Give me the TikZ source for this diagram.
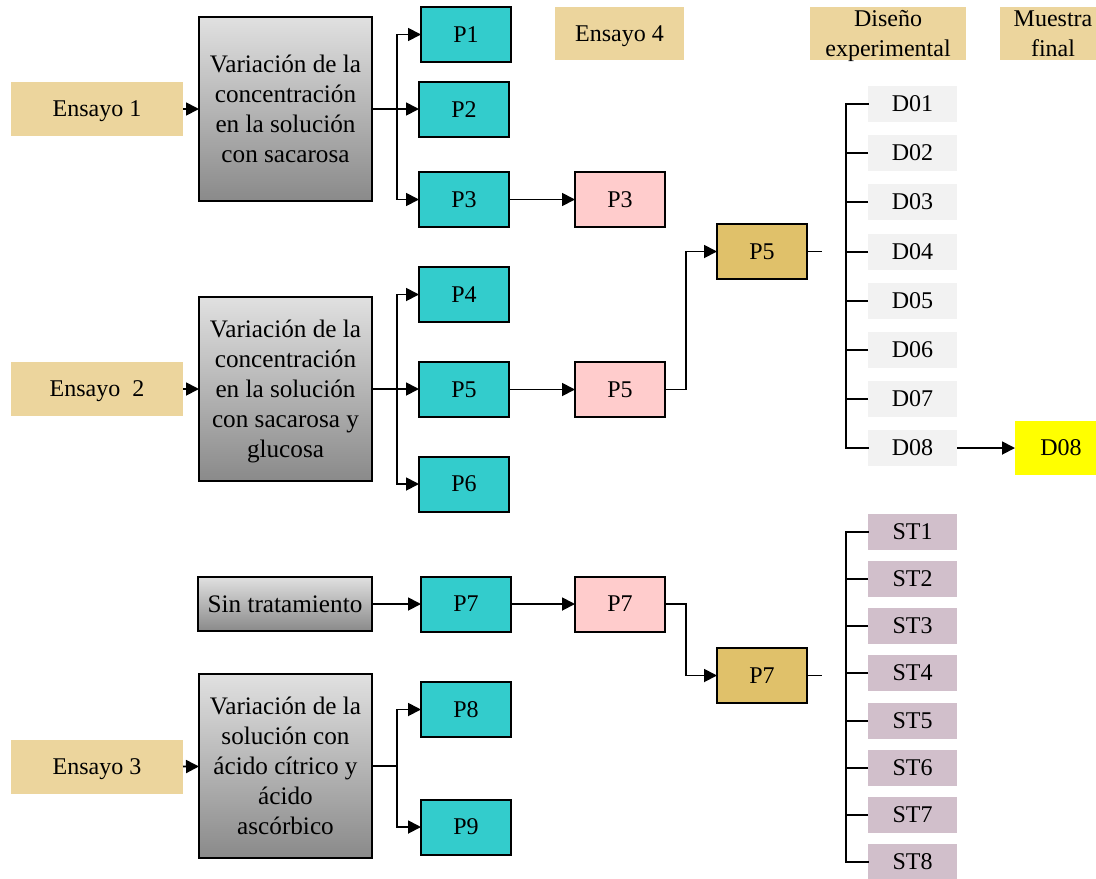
\documentclass[tikz,border=0pt]{standalone}
\usepackage{fontspec}
\setmainfont{Liberation Serif}
\usetikzlibrary{arrows.meta}

\definecolor{tanfill}{RGB}{236,213,157}
\definecolor{cyanfill}{RGB}{51,204,204}
\definecolor{pinkfill}{RGB}{255,204,204}
\definecolor{goldfill}{RGB}{224,193,106}
\definecolor{dfill}{RGB}{242,242,242}
\definecolor{stfill}{RGB}{209,191,203}
\definecolor{yelfill}{RGB}{255,255,0}

\tikzset{
  base/.style={inner sep=0pt, outer sep=0pt, align=center, text depth=0pt,
    font=\fontsize{12}{15}\selectfont},
  label/.style={base, fill=tanfill, minimum width=86pt, minimum height=27pt},
  header/.style={base, fill=tanfill, minimum height=26.5pt},
  process/.style={base, draw=black, line width=1pt,
    font=\fontsize{12.6}{15}\selectfont,
    top color=white!88!black, bottom color=white!54!black,
    minimum width=86.5pt, minimum height=92pt},
  pbox/.style={base, draw=black, line width=1pt,
    minimum width=45pt, minimum height=27.5pt},
  cyanbox/.style={pbox, fill=cyanfill},
  pinkbox/.style={pbox, fill=pinkfill},
  goldbox/.style={pbox, fill=goldfill},
  dbox/.style={base, fill=dfill, minimum width=44.5pt, minimum height=18pt},
  stbox/.style={base, fill=stfill, minimum width=44.5pt, minimum height=18pt},
  link/.style={line width=0.9pt},
  arr/.style={link, -{Triangle[length=6.5pt,width=6.5pt]}},
  tree/.style={line width=0.9pt, line cap=rect}
}

\begin{document}
\begin{tikzpicture}[x=0.5pt,y=-0.5pt]
\useasboundingbox (0,0) rectangle (1096,878);

% column headers
\node[header, minimum width=64.5pt] (e4) at (619.5,33.5) {Ensayo 4};
\node[header, minimum width=78pt] (hd) at (888,33.5) {Diseño\\experimental};
\node[header, minimum width=53pt] (hm) at (1053,33.5) {Muestra\\final};

% Ensayo 1
\node[label] (e1) at (97,109) {Ensayo 1};
\node[process] (b1) at (285.5,109) {Variación de la\\concentración\\en la solución\\con sacarosa};
\node[cyanbox] (p1) at (466,34.5) {P1};
\node[cyanbox] (p2) at (464,109.5) {P2};
\node[cyanbox] (p3) at (464,199.5) {P3};
\node[pinkbox] (q3) at (620,199.5) {P3};

% Ensayo 2
\node[label] (e2) at (97,389) {Ensayo\ \ 2};
\node[process] (b2) at (285.5,389) {Variación de la\\concentración\\en la solución\\con sacarosa y\\glucosa};
\node[cyanbox] (p4) at (464,294.5) {P4};
\node[cyanbox] (p5) at (464,389.5) {P5};
\node[cyanbox] (p6) at (464,484) {P6};
\node[pinkbox] (q5) at (620,389.5) {P5};
\node[goldbox] (g5) at (762,251.5) {P5};

% experimental design for P5
\foreach \i/\y in {1/104,2/153,3/202,4/252,5/301,6/350,7/399,8/448}
  \node[dbox] (d\i) at (912.5,\y) {D0\i};
\node[base, fill=yelfill, minimum width=46pt, minimum height=27pt] (fin) at (1061,448) {D08};

% without treatment
\node[process, minimum width=87pt, minimum height=27pt] (sin) at (285,604) {Sin tratamiento};
\node[cyanbox] (p7) at (466,604) {P7};
\node[pinkbox] (q7) at (620,604) {P7};
\node[goldbox] (g7) at (762,675.5) {P7};

% experimental design for P7
\foreach \i/\y in {1/532,2/579,3/626,4/673,5/721,6/768,7/815,8/862}
  \node[stbox] (st\i) at (912.5,\y) {ST\i};

% Ensayo 3
\node[label] (e3) at (97,767) {Ensayo 3};
\node[process] (b3) at (285.5,766) {Variación de la\\solución con\\ácido cítrico y\\ácido\\ascórbico};
\node[cyanbox] (p8) at (466,709.5) {P8};
\node[cyanbox] (p9) at (466,827) {P9};

% junction points
\coordinate (j1) at (397,109);
\coordinate (j2) at (397,389);
\coordinate (j3) at (397,766);
\coordinate (s5) at (822,251.5);
\coordinate (s7) at (822,675.5);

% connectors: Ensayo 1
\draw[arr] (e1) -- (b1);
\draw[link] (b1.east) -- (j1);
\draw[arr] (j1) |- (p1.west);
\draw[arr] (j1) -- (j1 -| p2.west);
\draw[arr] (j1) |- (p3.west);
\draw[arr] (p3) -- (q3);

% connectors: Ensayo 2
\draw[arr] (e2) -- (b2);
\draw[link] (b2.east) -- (j2);
\draw[arr] (j2) |- (p4.west);
\draw[arr] (j2) -- (j2 -| p5.west);
\draw[arr] (j2) |- (p6.west);
\draw[arr] (p5) -- (q5);
\draw[arr] (q5.east) -- ++(21,0) |- (g5.west);
\draw[link] (g5.east) -- (s5);

% tree of D samples
\draw[tree] (d1.west) -- ++(-22,0) |- (d8.west);
\foreach \i in {2,...,7}
  \draw[link] (d\i.west) -- ++(-22,0);
\draw[arr] (d8) -- (fin);

% connectors: no treatment
\draw[arr] (sin) -- (p7);
\draw[arr] (p7) -- (q7);
\draw[arr] (q7.east) -- ++(21,0) |- (g7.west);
\draw[link] (g7.east) -- (s7);

% tree of ST samples
\draw[tree] (st1.west) -- ++(-22,0) |- (st8.west);
\foreach \i in {2,...,7}
  \draw[link] (st\i.west) -- ++(-22,0);

% connectors: Ensayo 3
\draw[arr] (e3) -- (b3);
\draw[link] (b3.east) -- (j3);
\draw[arr] (j3) |- (p8.west);
\draw[arr] (j3) |- (p9.west);
\end{tikzpicture}
\end{document}
